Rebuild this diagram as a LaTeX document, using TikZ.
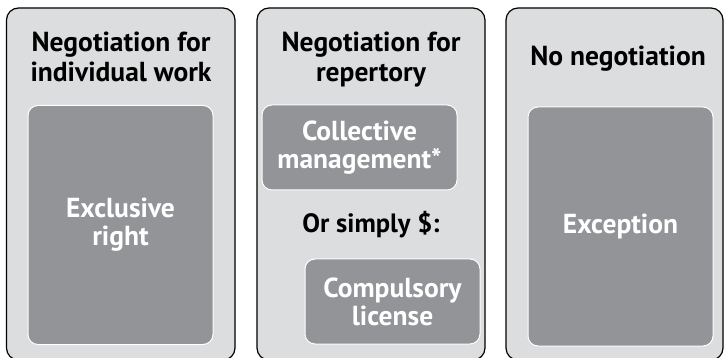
\documentclass[tikz,border=0pt]{standalone}
\usepackage{fontspec}
\setmainfont{PT Sans}
\definecolor{panelgray}{HTML}{DCDDDF}
\definecolor{boxgray}{HTML}{939497}

\begin{document}
\begin{tikzpicture}[x=1pt,y=-1pt,
  panel/.style={draw=black,line width=1.2pt,fill=panelgray,rounded corners=12pt,inner sep=0pt,minimum height=352pt},
  inbox/.style={draw=white,line width=1pt,fill=boxgray,rounded corners=10pt,inner sep=0pt,text=white,align=center,font=\bfseries\fontsize{27.5}{28}\selectfont},
  head/.style={align=center,inner sep=0pt,font=\bfseries\fontsize{27.5}{30}\selectfont}]
\useasboundingbox (0,0) rectangle (726,358);
%\draw[red] (0,0) rectangle (726,358);
\node at (120.75,184) [panel,minimum width=228.5pt](p1){};
\node at (371,184) [panel,minimum width=228pt](p2){};
\node at (614.5,184) [panel,minimum width=217pt](p3){};
\node at (121,57) [head](h1){Negotiation for\\individual work};
\node at (371,60) [head](h2){Negotiation for\\repertory};
\node at (618,59) [head](h3){No negotiation};
\node at (120.5,225) [inbox,minimum width=185pt,minimum height=239pt](excl){Exclusive\\right};
\node at (359.5,147.5) [inbox,minimum width=195pt,minimum height=85pt](coll){Collective\\management*};
\node at (371,225) [head,font=\bfseries\fontsize{26.5}{30}\selectfont](simply){Or simply \$:};
\node at (392.5,301.5) [inbox,minimum width=175pt,minimum height=85pt](comp){Compulsory\\license};
\node at (620.5,226.5) [inbox,minimum width=185pt,minimum height=239pt](exc){Exception};
\end{tikzpicture}
\end{document}
